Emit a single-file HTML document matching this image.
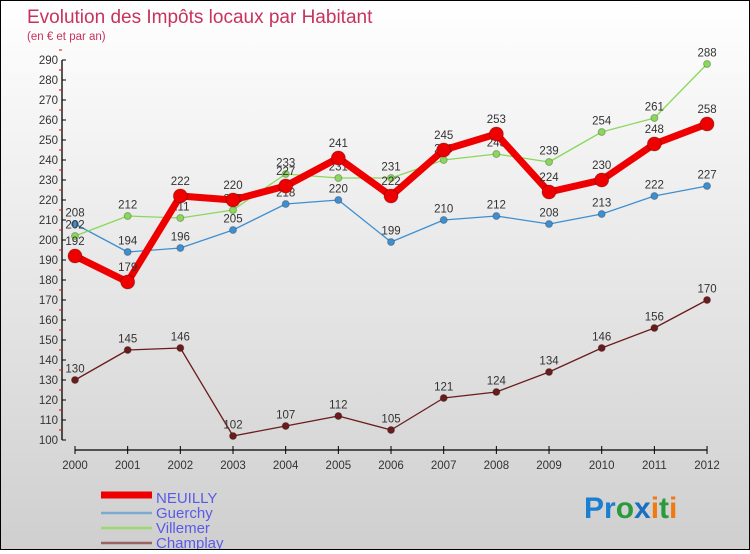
<!DOCTYPE html>
<html><head><meta charset="utf-8"><style>
body{margin:0;width:750px;height:550px;overflow:hidden}
#wrap{position:relative;width:748px;height:548px;border:1px solid #000;background:linear-gradient(#ffffff,#cfcfcf);font-family:"Liberation Sans",sans-serif}
svg text{font-family:"Liberation Sans",sans-serif}
</style></head><body>
<div id="wrap">
<svg id="chart" width="748" height="548">
<text x="26" y="22" font-size="19" fill="#c8325e">Evolution des Impôts locaux par Habitant</text>
<text x="26" y="39" font-size="11.5" fill="#c8325e">(en € et par an)</text>
<g id="axes"></g><g id="series"></g><g id="legend"></g>
<text x="583" y="517" font-size="30" font-weight="bold"><tspan fill="#1a7fd0">Pr</tspan><tspan fill="#2a9a3a">o</tspan><tspan fill="#1a6fc0">x</tspan><tspan fill="#f07a10">i</tspan><tspan fill="#2a9a3a">t</tspan><tspan fill="#f07a10">i</tspan></text>
</svg>
</div>
<script>
const years=[2000,2001,2002,2003,2004,2005,2006,2007,2008,2009,2010,2011,2012];
const neuilly=[192,179,222,220,227,241,222,245,253,224,230,248,258];
const guerchy=[208,194,196,205,218,220,199,210,212,208,213,222,227];
const villemer=[202,212,211,215,233,231,231,240,243,239,254,261,288];
const champlay=[130,145,146,102,107,112,105,121,124,134,146,156,170];
const yTicks=[100,110,120,130,140,150,160,170,180,190,200,210,220,230,240,250,260,270,280,290];
const seriesNames=["NEUILLY","Guerchy","Villemer","Champlay"];
const NS="http://www.w3.org/2000/svg";
const xs=i=>75+i*52.67-1, ys=v=>439-(v-100)*2;
function mk(t,a,p){const e=document.createElementNS(NS,t);for(const k in a)e.setAttribute(k,a[k]);p.appendChild(e);return e;}
const ax=document.getElementById('axes');
let e=mk('line',{x1:61,y1:ys(290),x2:61,y2:ys(100),stroke:'#000','stroke-width':1.3},ax);


yTicks.forEach(v=>{
 mk('line',{x1:61,y1:ys(v),x2:65,y2:ys(v),stroke:'#000'},ax);
 mk('line',{x1:58,y1:ys(v)-10,x2:61,y2:ys(v)-10,stroke:'#e00'},ax);
 const t=mk('text',{x:57,y:ys(v)+4,'font-size':11.5,fill:'#333','text-anchor':'end'},ax);t.textContent=v;
 
 
});
e=mk('line',{x1:xs(0),y1:449,x2:xs(12),y2:449,stroke:'#000','stroke-width':1.3},ax);


years.forEach((y,i)=>{
 mk('line',{x1:xs(i),y1:445,x2:xs(i),y2:453,stroke:'#000'},ax);
 const t=mk('text',{x:xs(i),y:468,'font-size':11.5,fill:'#333','text-anchor':'middle'},ax);t.textContent=y;
 
 
});
const sg=document.getElementById('series');
function draw(data,color,w,r,name){
 const g=mk('g',{},sg);
 
 
 mk('polyline',{points:data.map((v,i)=>xs(i)+','+ys(v)).join(' '),fill:'none',stroke:color,'stroke-width':w,'stroke-linejoin':'round'},g);
 data.forEach((v,i)=>{
  const c=mk('circle',{cx:xs(i),cy:ys(v),r:r,fill:color,stroke:'rgba(0,0,0,0.25)'},g);
  
  
  const t=mk('text',{x:xs(i),y:ys(v)-r-4,'font-size':11.5,fill:'#333','text-anchor':'middle'},g);t.textContent=v;
  
  
 });
}
draw(champlay,'#6a1c1c',1.3,3.5,'champlay');
draw(guerchy,'#3f8fd0',1.3,3.5,'guerchy');
draw(villemer,'#8ad85a',1.3,3.5,'villemer');
draw(neuilly,'#ee0000',7,7,'neuilly');
const lg=document.getElementById('legend');
const lcol=['#ee0000','#7aaad0','#9ad870','#9a6464'],lw=[7,2.5,2.5,2.5];
seriesNames.forEach((n,i)=>{
 const y=494+i*15;
 const g=mk('g',{},lg);
 
 
 mk('line',{x1:100,y1:y+(i==0?0:3),x2:151,y2:y+(i==0?0:3),stroke:lcol[i],'stroke-width':lw[i]},g);
 const t=mk('text',{x:155,y:y+8,'font-size':15,fill:'#5a5ae8'},g);t.textContent=n;
});
</script>
</body></html>
